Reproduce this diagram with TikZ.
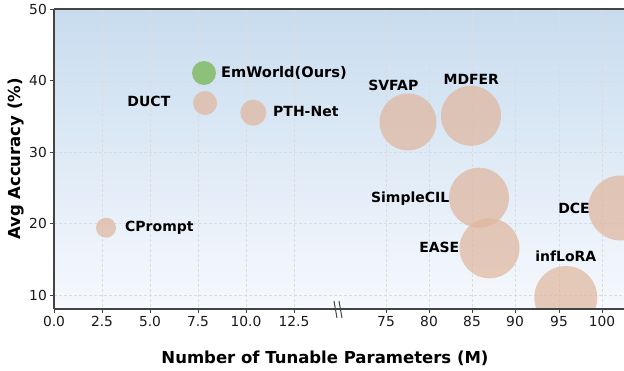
\documentclass[tikz,border=0pt]{standalone}
\usepackage{fontspec}
\setmainfont{DejaVu Sans}
\definecolor{bgtop}{HTML}{C8DCEF}
\definecolor{bgbot}{HTML}{F6F9FD}
\definecolor{bubc}{HTML}{DFB59C}
\definecolor{emc}{HTML}{8DC17A}
\definecolor{gridc}{HTML}{D9DDE2}
\definecolor{spinec}{HTML}{444444}
\begin{document}
\begin{tikzpicture}[x=1pt,y=-1pt,
  bub/.style={circle, fill=bubc, fill opacity=0.7, draw=none, inner sep=0pt},
  embub/.style={circle, fill=emc, draw=none, inner sep=0pt},
  lab/.style={font=\fontsize{14}{14}\selectfont\bfseries, inner sep=0pt, text=black},
  ticklab/.style={font=\fontsize{13.8}{13.8}\selectfont, inner sep=0pt, text=black!90},
  gridline/.style={draw=gridc, dash pattern=on 3pt off 2pt, line width=0.6pt},
  spine/.style={draw=spinec, line width=1.1pt},
  title/.style={font=\fontsize{16.5}{16.5}\selectfont\bfseries, inner sep=0pt}]
\useasboundingbox (0,0) rectangle (624,370);
% background
\shade[top color=bgtop, bottom color=bgbot] (54,9) rectangle (624,309);
% grid
\foreach \x in {102,150,198,246,294,386,429,472,515,559,602}
  \draw[gridline] (\x,9) -- (\x,309);
\foreach \y in {80.9,152.3,223.7,295.1}
  \draw[gridline] (54,\y) -- (624,\y);
% bubbles
\begin{scope}
\clip (54,9) rectangle (624,309);
\node[embub, minimum size=24pt] (emworld) at (204,73) {};
\node[bub, minimum size=24pt] (duct) at (205,103) {};
\node[bub, minimum size=26pt] (pthnet) at (253.3,112.7) {};
\node[bub, minimum size=20pt] (cprompt) at (106,227.7) {};
\node[bub, minimum size=57pt] (svfap) at (408,122) {};
\node[bub, minimum size=60pt] (mdfer) at (471,115.8) {};
\node[bub, minimum size=60pt] (simplecil) at (479,197.7) {};
\node[bub, minimum size=60pt] (ease) at (489.5,248.3) {};
\node[bub, minimum size=65pt] (dce) at (620.8,208) {};
\node[bub, minimum size=63pt] (inflora) at (565.8,297.5) {};
\end{scope}
% labels
\node[lab, anchor=base west, font=\fontsize{14.6}{14.6}\selectfont\bfseries] (emworldlab) at (221,77.8) {EmWorld(Ours)};
\node[lab, anchor=base east] (ductlab) at (170.5,106.7) {DUCT};
\node[lab, anchor=base west] (pthnetlab) at (273,116.2) {PTH-Net};
\node[lab, anchor=base west] (cpromptlab) at (125,231) {CPrompt};
\node[lab, anchor=base] (svfaplab) at (393.3,90) {SVFAP};
\node[lab, anchor=base] (mdferlab) at (471.3,84) {MDFER};
\node[lab, anchor=base east] (simplecillab) at (449.5,202) {SimpleCIL};
\node[lab, anchor=base east] (easelab) at (459.5,252.5) {EASE};
\node[lab, anchor=base east] (dcelab) at (590,213.3) {DCE};
\node[lab, anchor=base] (infloralab) at (565.8,261.7) {infLoRA};
% spines
\draw[spine] (54,9) -- (624,9);
\draw[spine] (54,9) -- (54,309);
\draw[spine] (54,309) -- (624,309);
% y ticks
\foreach \y/\t in {9.5/50,80.9/40,152.3/30,223.7/20,295.1/10}{
  \draw[spine, line width=0.9pt] (50,\y) -- (54,\y);
  \node[ticklab, anchor=east] at (47,\y) {\t};
}
% x ticks
\foreach \x/\t in {54/0.0,102/2.5,150/5.0,198/7.5,246/10.0,294/12.5,386/75,429/80,472/85,515/90,559/95,602/100}{
  \draw[spine, line width=0.9pt] (\x,309) -- (\x,313);
  \node[ticklab, anchor=north] at (\x,316.5) {\t};
}
% axis break
\draw[spinec, line width=1pt] (334,301) -- (337,318);
\draw[spinec, line width=1pt] (339,301) -- (342,318);
% titles
\node[title] (xtitle) at (325,358) {Number of Tunable Parameters (M)};
\node[title, rotate=90] (ytitle) at (16.5,159) {Avg Accuracy (\%)};
\end{tikzpicture}
\end{document}
